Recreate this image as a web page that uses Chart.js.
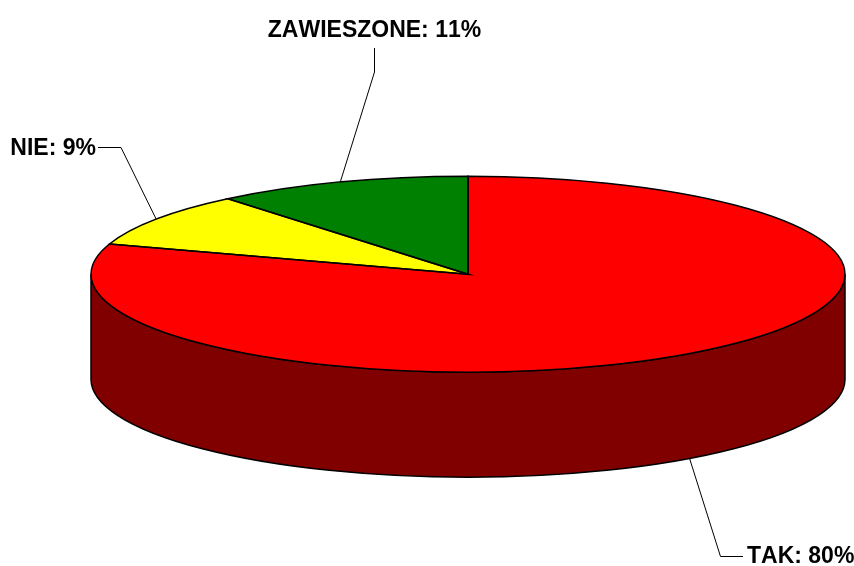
<!DOCTYPE html>
<html><head><meta charset="utf-8">
<style>html,body{margin:0;padding:0;background:#fff}canvas{display:block}</style>
<script src="https://cdn.jsdelivr.net/npm/chart.js@4"></script>
</head><body><canvas id="c" width="854" height="566"></canvas>
<script>
const categories = ['TAK', 'NIE', 'ZAWIESZONE'];
const shares = [80, 9, 11];
const topColors = ['#ff0000', '#ffff00', '#008000'];
const sideColors = ['#800000', '#808000', '#004000'];

const RADIUS = 377, SQUASH = 98 / 377, DEPTH = 105;
// leader elbows and baseline anchor for each label
const leaders = [
  {elbow: [720.5, 556.5], end: [743, 556.5], text: [747, 563], align: 'left', side: true},
  {elbow: [121, 147.5], end: [98, 147.5], text: [96, 155], align: 'right'},
  {elbow: [374.5, 72], end: [374.5, 48], text: [374.5, 37], align: 'center'}
];

function squashed(ctx, cy, fn) {
  ctx.save();
  ctx.translate(0, cy); ctx.scale(1, SQUASH); ctx.translate(0, -cy);
  fn();
  ctx.restore();
}
const arcProps = arc => arc.getProps(['x', 'y', 'startAngle', 'endAngle', 'outerRadius'], true);

const pie3d = {
  id: 'pie3d',
  beforeDatasetsDraw(chart) {
    const ctx = chart.ctx;
    const arcs = chart.getDatasetMeta(0).data;
    ctx.save();
    ctx.strokeStyle = '#000'; ctx.lineWidth = 1.5;
    arcs.forEach((arc, i) => {
      const {x, y, startAngle, endAngle, outerRadius: r} = arcProps(arc);
      [0, 2 * Math.PI].forEach(base => {
        const a = Math.max(startAngle, base), b = Math.min(endAngle, base + Math.PI);
        if (b <= a) return;
        ctx.beginPath();
        squashed(ctx, y, () => ctx.arc(x, y, r, a, b, false));
        squashed(ctx, y + DEPTH, () => ctx.arc(x, y + DEPTH, r, b, a, true));
        ctx.closePath();
        ctx.fillStyle = sideColors[i];
        ctx.fill(); ctx.stroke();
      });
    });
    ctx.restore();
    // the library's own arcs are drawn flattened between here and afterDatasetsDraw
    const cy = arcs[0].y;
    ctx.save();
    ctx.translate(0, cy); ctx.scale(1, SQUASH); ctx.translate(0, -cy);
  },
  afterDatasetsDraw(chart) {
    const ctx = chart.ctx;
    ctx.restore();
    ctx.save();
    ctx.strokeStyle = '#000';
    chart.getDatasetMeta(0).data.forEach((arc, i) => {
      const {x, y, startAngle, endAngle, outerRadius: r} = arcProps(arc);
      ctx.lineWidth = 1.5;
      ctx.beginPath();
      squashed(ctx, y, () => { ctx.moveTo(x, y); ctx.arc(x, y, r, startAngle, endAngle); ctx.closePath(); });
      ctx.stroke();

      const mid = (startAngle + endAngle) / 2;
      const L = leaders[i];
      const sx = x + r * Math.cos(mid);
      const sy = y + r * SQUASH * Math.sin(mid) + (L.side ? DEPTH : 0);
      ctx.lineWidth = 1;
      ctx.beginPath();
      ctx.moveTo(sx, sy); ctx.lineTo(L.elbow[0], L.elbow[1]); ctx.lineTo(L.end[0], L.end[1]);
      ctx.stroke();

      ctx.fillStyle = '#000';
      ctx.font = 'bold 23px "Liberation Sans", Arial, sans-serif';
      ctx.fontKerning = 'none';
      ctx.textAlign = L.align; ctx.textBaseline = 'alphabetic';
      ctx.fillText(categories[i] + ': ' + shares[i] + '%', L.text[0], L.text[1]);
    });
    ctx.restore();
  }
};

new Chart(document.getElementById('c'), {
  type: 'pie',
  data: {labels: categories, datasets: [{data: shares, backgroundColor: topColors, borderWidth: 0}]},
  options: {
    responsive: false,
    animation: false,
    radius: RADIUS,
    layout: {padding: {left: 82, right: 0, top: 0, bottom: 17.5}},
    plugins: {legend: {display: false}, tooltip: {enabled: false}}
  },
  plugins: [pie3d]
});
</script></body></html>
